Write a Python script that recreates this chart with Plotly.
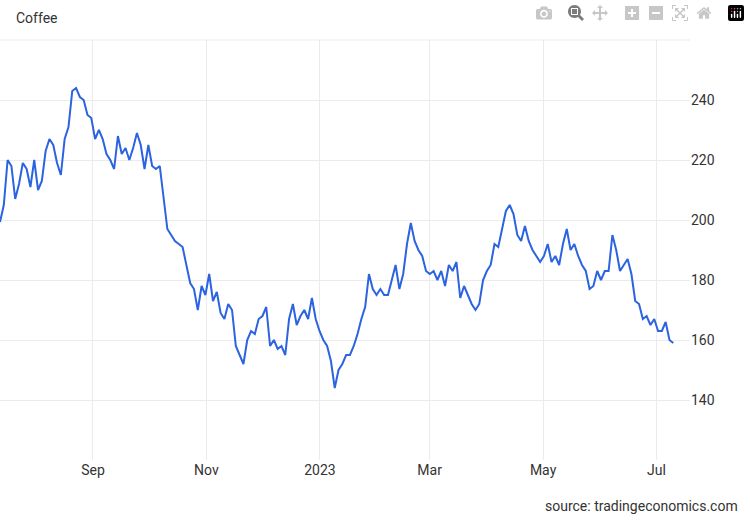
import plotly.graph_objects as go
import pandas as pd

start_date = "2022-07-13"
end_date = "2023-07-10"
prices = [199.3,205,220,218,207,212,219,217,211,220,210,213,223,227,225,219,215,227,231,243,244,241,240,235,234,227,230,227,222,220,217,228,222,224,220,224,229,225,217,225,218,217,218,207,197,195,193,192,191,185,179,177,170,178,175,182,173,176,169,167,172,170,158,155,152,160,163,162,167,168,171,158,160,157,158,155,167,172,165,168,170,167,174,167,163,160,158,153,144,150,152,155,155,158,162,167,171,182,177,175,177,175,175,180,185,177,182,192,199,193,190,188,183,182,183,180,183,178,185,183,186,174,178,175,172,170,172,180,183,185,192,191,197,203,205,202,195,193,198,193,190,188,186,188,192,186,188,185,192,197,190,192,188,185,183,177,178,183,180,183,183,195,190,183,185,187,182,173,172,167,168,165,167,163,163,166,160,159]
dates = pd.date_range(start_date, end_date, periods=len(prices))
tick_dates = ["2022-09-01","2022-11-01","2023-01-01","2023-03-01","2023-05-01","2023-07-01"]
tick_text = ["Sep","Nov","2023","Mar","May","Jul"]
y_ticks = [140,160,180,200,220,240]

fig = go.Figure(go.Scatter(x=dates, y=prices, mode="lines",
                           line=dict(color="#2b63e0", width=2), hoverinfo="skip"))
fig.update_layout(
    width=750, height=520, margin=dict(l=0, r=60, t=40, b=60),
    paper_bgcolor="white", plot_bgcolor="white", showlegend=False,
    font=dict(family="Roboto, Arial, sans-serif", size=14, color="#333"),
    xaxis=dict(range=["2022-07-13","2023-07-19"], tickvals=tick_dates, ticktext=tick_text,
               showgrid=True, gridcolor="#ebebeb", zeroline=False, showline=False, ticks=""),
    yaxis=dict(side="right", range=[120,260], tickvals=y_ticks, showgrid=True,
               gridcolor="#ebebeb", zeroline=False, ticks=""),
    annotations=[
        dict(text="Coffee", xref="paper", yref="paper", x=0, y=1, xanchor="left", yanchor="bottom",
             xshift=14, yshift=12, showarrow=False, font=dict(size=14, color="#333")),
        dict(text="source: tradingeconomics.com", xref="paper", yref="paper", x=1.072, y=0,
             xanchor="right", yanchor="top", yshift=-36, showarrow=False, font=dict(size=14, color="#333")),
    ],
)
fig.add_shape(type="line", xref="paper", yref="paper", x0=0, x1=1, y0=1, y1=1,
              line=dict(color="#ebebeb", width=1))
fig.write_html("out.html")
with open("out.html", encoding="utf-8") as f:
    html = f.read()
html = html.replace("<head>", "<head><style>body{margin:0;}</style>", 1)
with open("out.html", "w", encoding="utf-8") as f:
    f.write(html)
